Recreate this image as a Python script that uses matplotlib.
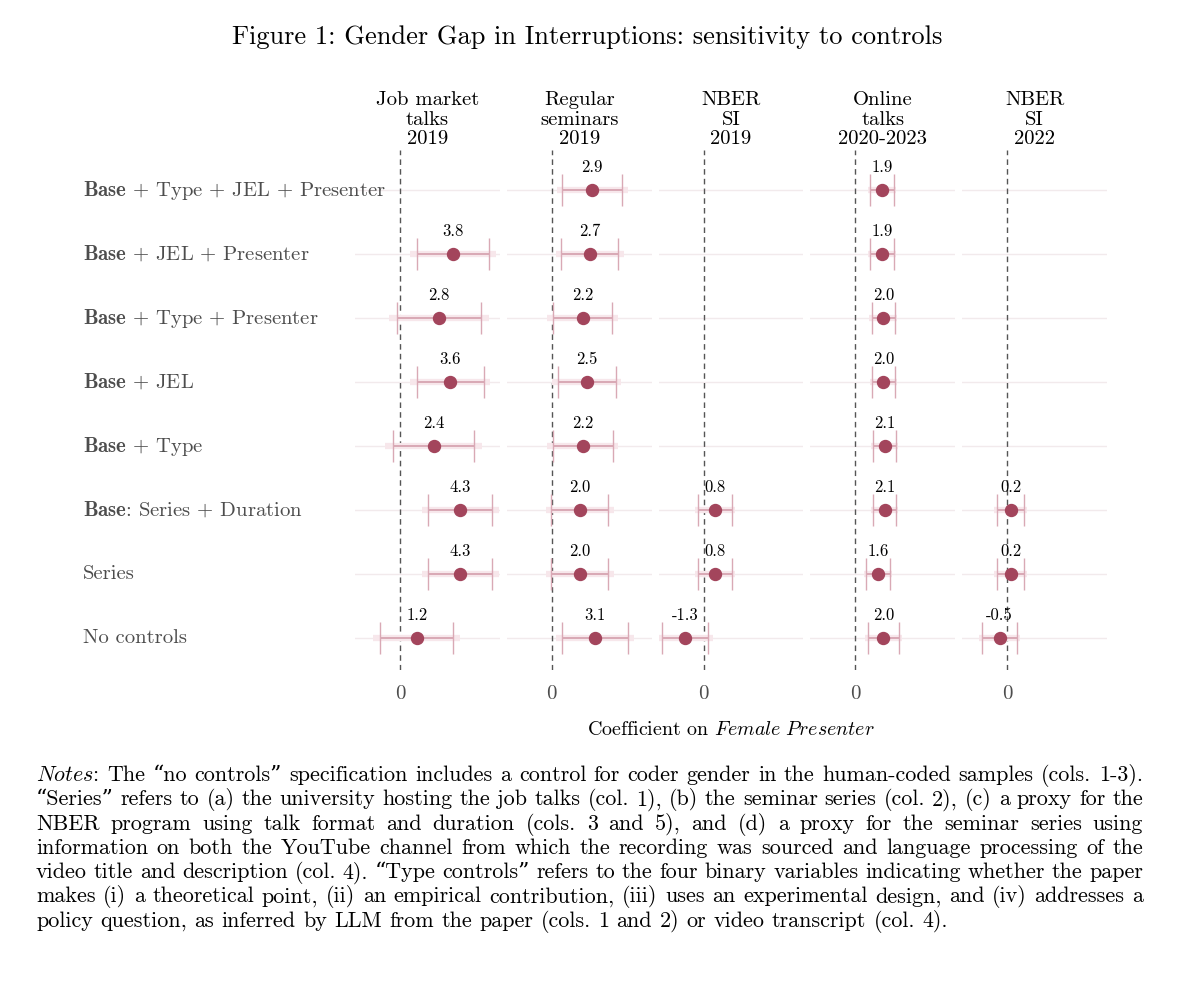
import numpy as np
import matplotlib
matplotlib.use("Agg")
import matplotlib.pyplot as plt
from matplotlib.transforms import blended_transform_factory

# =========================
# Data
# =========================
specs = [
    r"$\mathbf{Base}$ + Type + JEL + Presenter",
    r"$\mathbf{Base}$ + JEL + Presenter",
    r"$\mathbf{Base}$ + Type + Presenter",
    r"$\mathbf{Base}$ + JEL",
    r"$\mathbf{Base}$ + Type",
    r"$\mathbf{Base}$: Series + Duration",
    "Series",
    "No controls",
]
panels = [
    "Job market\ntalks\n2019",
    "Regular\nseminars\n2019",
    "NBER\nSI\n2019",
    "Online\ntalks\n2020-2023",
    "NBER\nSI\n2022",
]
nan = np.nan
est_job = [nan, 3.8, 2.8, 3.6, 2.4, 4.3, 4.3, 1.2]
se_job = [nan, 1.56, 1.82, 1.46, 1.76, 1.40, 1.40, 1.58]
est_reg = [2.9, 2.7, 2.2, 2.5, 2.2, 2.0, 2.0, 3.1]
se_reg = [1.30, 1.24, 1.29, 1.25, 1.30, 1.23, 1.23, 1.43]
est_si19 = [nan, nan, nan, nan, nan, 0.8, 0.8, -1.31]
se_si19 = [nan, nan, nan, nan, nan, 0.73, 0.73, 1.0]
est_online = [1.9, 1.9, 2.0, 2.0, 2.1, 2.1, 1.6, 2.0]
se_online = [0.51, 0.51, 0.51, 0.50, 0.50, 0.50, 0.51, 0.67]
est_si22 = [nan, nan, nan, nan, nan, 0.24, 0.24, -0.54]
se_si22 = [nan, nan, nan, nan, nan, 0.60, 0.60, 0.76]

estimates = [est_job, est_reg, est_si19, est_online, est_si22]
std_errs = [se_job, se_reg, se_si19, se_online, se_si22]

notes_lines = [
    "The “no controls” specification includes a control for coder gender in the human-coded samples (cols. 1-3).",
    "“Series” refers to (a) the university hosting the job talks (col. 1), (b) the seminar series (col. 2), (c) a proxy for the",
    "NBER program using talk format and duration (cols. 3 and 5), and (d) a proxy for the seminar series using",
    "information on both the YouTube channel from which the recording was sourced and language processing of the",
    "video title and description (col. 4).  “Type controls” refers to the four binary variables indicating whether the paper",
    "makes (i) a theoretical point, (ii) an empirical contribution, (iii) uses an experimental design, and (iv) addresses a",
    "policy question, as inferred by LLM from the paper (cols. 1 and 2) or video transcript (col. 4).",
]

# =========================
# Style
# =========================
plt.rcParams["font.family"] = ["cmr10", "DejaVu Serif"]
plt.rcParams["mathtext.fontset"] = "cm"
plt.rcParams["axes.formatter.use_mathtext"] = True

point_col = "#a3455c"
ci90_col = "#d9a9b5"
ci95_col = "#f7e7eb"
grid_col = "#f2eaec"
label_grey = "#4d4d4d"

W, H = 1200, 985
fig = plt.figure(figsize=(W / 100, H / 100), dpi=100)

# panel geometry in pixels
left0, pw, gap = 355, 144.8, 7.0
top_px, bot_px = 150, 670
rows = np.arange(len(specs))

axes = []
for i, name in enumerate(panels):
    x_px = left0 + i * (pw + gap)
    ax = fig.add_axes([x_px / W, 1 - bot_px / H, pw / W, (bot_px - top_px) / H])
    axes.append(ax)

    est = np.array(estimates[i], dtype=float)
    se = np.array(std_errs[i], dtype=float)
    ok = ~np.isnan(est)

    ax.set_xlim(-3.21, 7.13)
    ax.set_ylim(7.5, -0.625)

    for r in rows:
        ax.axhline(r, color=grid_col, lw=1.0, zorder=1)
    ax.axvline(0, color="#555555", lw=1.0, ls=(0, (4, 3)), zorder=2)

    # 95% band (wide, light) and 90% interval with caps
    ax.hlines(rows[ok], est[ok] - 1.96 * se[ok], est[ok] + 1.96 * se[ok],
              color=ci95_col, lw=4.5, zorder=2.5)
    ax.errorbar(est[ok], rows[ok], xerr=1.645 * se[ok], fmt="none",
                ecolor=ci90_col, elinewidth=1.4, capsize=11.5, capthick=1.0, zorder=3)
    ax.plot(est[ok], rows[ok], "o", color=point_col, ms=8.6, zorder=4)

    for r, v in zip(rows[ok], est[ok]):
        ax.annotate(f"{v:.1f}", (v, r), xytext=(0, 16.5), textcoords="offset points",
                    ha="center", va="center", fontsize=12, color="black", zorder=5)

    ax.set_xticks([0])
    ax.set_xticklabels(["0"])
    ax.set_yticks([])
    ax.tick_params(axis="x", length=0, pad=11, labelsize=15, labelcolor=label_grey)
    for s in ax.spines.values():
        s.set_visible(False)

    fig.text((x_px + pw / 2) / W, 1 - 148 / H, name, ha="center", va="bottom",
             fontsize=14.9, linespacing=1.1)

# row labels
tr = blended_transform_factory(fig.transFigure, axes[0].transData)
for r, s in zip(rows, specs):
    axes[0].text(83 / W, r, s, transform=tr, ha="left", va="center",
                 fontsize=14.9, color=label_grey)

# titles
fig.text(587 / W, 1 - 37 / H, "Figure 1: Gender Gap in Interruptions: sensitivity to controls",
         ha="center", va="center", fontsize=19)
fig.text((left0 + (5 * pw + 4 * gap) / 2) / W, 1 - 730 / H,
         r"Coefficient on $\mathit{Female\ Presenter}$", ha="center", va="center", fontsize=14.4)

# =========================
# Notes, justified by hand
# =========================
renderer = fig.canvas.get_renderer()
note_fs = 15.9
x_left, x_right = 36, 1143
base_y, line_h = 781, 24.3


def text_width(s):
    t = fig.text(0, 0, s, fontsize=note_fs)
    w = t.get_window_extent(renderer).width
    t.remove()
    return w


space_w = text_width("a b") - text_width("ab")
for li, line in enumerate(notes_lines):
    words = line.split()
    if li == 0:
        words = [r"$\mathit{Notes}$:"] + words
    widths = [text_width(w) for w in words]
    if li < len(notes_lines) - 1:
        sp = (x_right - x_left - sum(widths)) / (len(words) - 1)
    else:
        sp = space_w
    x = x_left
    y = 1 - (base_y + li * line_h) / H
    for w, wd in zip(words, widths):
        fig.text(x / W, y, w, fontsize=note_fs, ha="left", va="baseline")
        x += wd + sp

fig.savefig("out.png", dpi=100)
